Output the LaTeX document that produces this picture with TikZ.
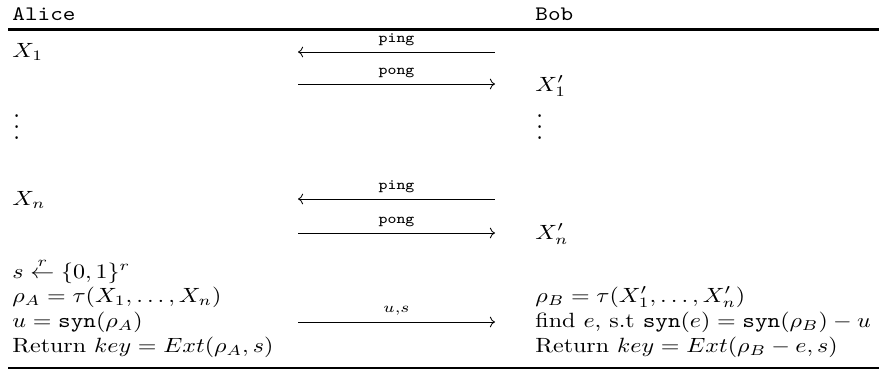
\documentclass[tikz,border=0pt]{standalone}
\usepackage{amsmath}
\usepackage{graphicx}
\usetikzlibrary{arrows.meta}

\begin{document}
\begin{tikzpicture}[
        x=0.4854pt, y=-0.4854pt,
        txt/.style={anchor=base west, inner sep=0pt, xscale=1.165},
        msg/.style={anchor=base, inner sep=0pt, xscale=1.165, yshift=4.4pt, font=\scriptsize\ttfamily},
        >=To
    ]
    \useasboundingbox (0,0) rectangle (879,371);

    % header
    \node[txt] (alice) at (12,20) {\texttt{Alice}};
    \node[txt] (bob) at (535,20) {\texttt{Bob}};
    \draw[line width=1.3pt] (8,29.5) -- (879,29.5);

    % first round
    \node[txt] (x1) at (12,57) {$X_1$};
    \coordinate (ping1a) at (298,52);
    \coordinate (ping1b) at (495,52);
    \draw[<-] (ping1a) -- node[msg] {ping} (ping1b);
    \coordinate (pong1a) at (298,84);
    \coordinate (pong1b) at (495,84);
    \draw[->] (pong1a) -- node[msg] {pong} (pong1b);
    \node[txt] (y1) at (535,91) {$X_1'$};

    \node[txt, yscale=1.3] (dotsA) at (13,139) {$\vdots$};
    \node[txt, yscale=1.3] (dotsB) at (536,139) {$\vdots$};

    % last round
    \node[txt] (xn) at (12,205) {$X_n$};
    \coordinate (ping2a) at (298,199);
    \coordinate (ping2b) at (495,199);
    \draw[<-] (ping2a) -- node[msg] {ping} (ping2b);
    \coordinate (pong2a) at (298,233);
    \coordinate (pong2b) at (495,233);
    \draw[->] (pong2a) -- node[msg] {pong} (pong2b);
    \node[txt] (yn) at (535,239) {$X_n'$};

    % key agreement
    \node[txt] (seed) at (12,278) {$s \stackrel{r}{\leftarrow} \{0,1\}^r$};
    \node[txt] (rhoA) at (12,302) {$\rho_A = \tau(X_1,\ldots,X_n)$};
    \node[txt] (rhoB) at (535,302) {$\rho_B = \tau(X_1',\ldots,X_n')$};
    \node[txt] (synA) at (12,327) {$u = \mathtt{syn}(\rho_A)$};
    \node[txt] (findB) at (535,327) {find $e$, s.t $\mathtt{syn}(e) = \mathtt{syn}(\rho_B) - u$};
    \coordinate (sendA) at (298,322);
    \coordinate (sendB) at (495,322);
    \draw[->] (sendA) -- node[msg] {$u{,}s$} (sendB);
    \node[txt] (keyA) at (12,352) {Return $key = Ext(\rho_A,s)$};
    \node[txt] (keyB) at (535,352) {Return $key = Ext(\rho_B - e,s)$};
    \draw[line width=0.6pt] (8,368) -- (879,368);

\end{tikzpicture}
\end{document}
